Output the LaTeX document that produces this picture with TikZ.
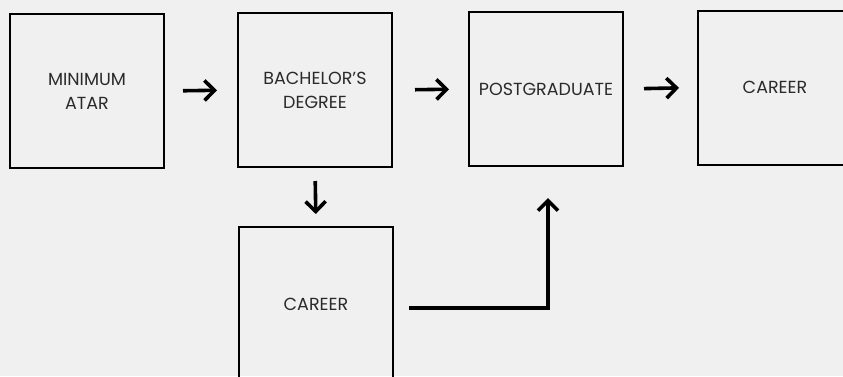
\documentclass[tikz,border=0pt]{standalone}
\usepackage{fontspec}
\setmainfont{Poppins}
\usetikzlibrary{arrows.meta,calc}
\definecolor{bg}{HTML}{F0F0F0}
\definecolor{txt}{HTML}{2A2A2A}
\tikzset{
  box/.style={draw=black, line width=2pt, minimum width=154pt, minimum height=154pt, inner sep=0pt, align=center, text=txt, font=\fontsize{17.5pt}{24pt}\selectfont},
  flow/.style={line width=3.6pt, -{Straight Barb[length=10pt,width=20pt,line width=3.6pt]}},
}
\begin{document}
\begin{tikzpicture}[x=1pt,y=-1pt]
\fill[bg] (0,0) rectangle (843,376);
\useasboundingbox (0,0) rectangle (843,376);
\node[box] (atar) at (87,91) {MINIMUM\\ATAR};
\node[box] (bach) at (315,90) {BACHELOR’S\\DEGREE};
\node[box] (post) at (546,89) {POSTGRADUATE};
\node[box] (car1) at (775,87.5) {CAREER};
\node[box] (car2) at (316,304) {CAREER};
\draw[flow, shorten <=18pt, shorten >=20pt] (atar.east) -- (bach.west);
\draw[flow, shorten <=22pt, shorten >=19pt] (bach.east) -- (post.west);
\draw[flow, shorten <=20pt, shorten >=18pt] (post.east) -- (car1.west);
\draw[flow, shorten <=13pt, shorten >=12pt] (bach.south) -- (car2.north);
\coordinate (elb) at ($(car2.east)+(15,4)$);
\coordinate (tip) at ($(post.south)+(2,31)$);
\draw[flow, line cap=butt] (elb) -| (tip);
\end{tikzpicture}
\end{document}
